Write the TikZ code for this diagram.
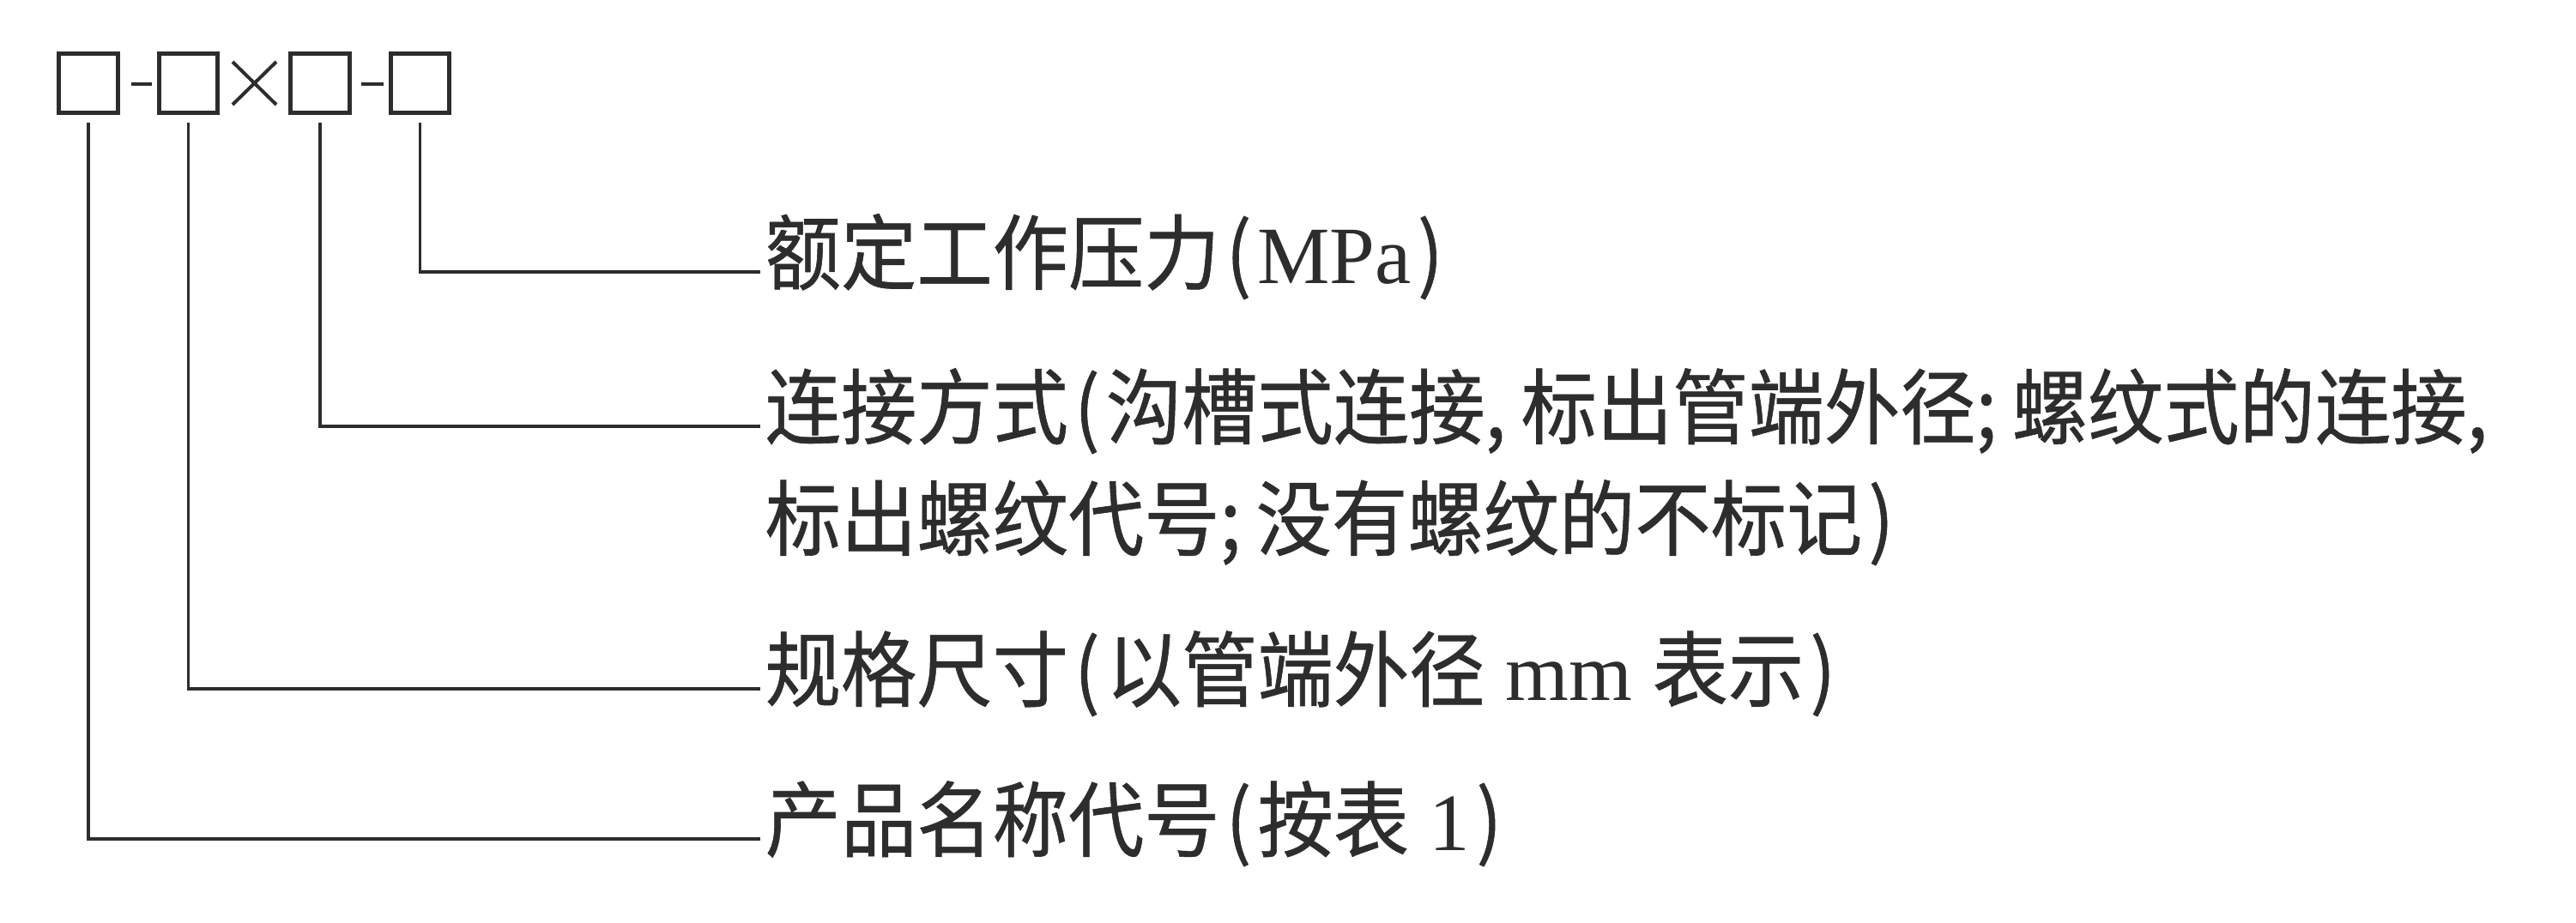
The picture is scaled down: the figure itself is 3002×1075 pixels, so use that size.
\documentclass[tikz,border=0pt]{standalone}
\usepackage{fontspec}
\setmainfont{Liberation Serif}
\newfontfamily\cjk[FakeStretch=0.92,FakeBold=0.6]{Noto Sans CJK SC}
\definecolor{ink}{RGB}{45,45,45}
\newcommand\lat[1]{{\fontsize{27pt}{32pt}\rmfamily #1}}
\newcommand\lp{\kern2pt(\kern2pt}
\newcommand\rp{\kern2pt)}
\begin{document}
\begin{tikzpicture}[x=0.01cm,y=-0.01cm,
  box/.style={draw=ink,line width=0.05cm,minimum width=0.68cm,minimum height=0.68cm,inner sep=0pt},
  conn/.style={draw=ink,line width=0.034cm,shorten <=0.09cm},
  mark line/.style={draw=ink,line width=0.04cm},
  label/.style={anchor=west,inner xsep=0.05cm,inner ysep=0pt,text=ink,
    font=\cjk\fontsize{27.3pt}{32pt}\selectfont,text height=0.88em,text depth=0.12em}]
\useasboundingbox (0,0) rectangle (3002,1075);
% code boxes
\node[box] (b1) at (103,97) {};
\node[box] (b2) at (219.5,97) {};
\node[box] (b3) at (373,97) {};
\node[box] (b4) at (489.5,97) {};
% separators
\draw[mark line] (b1.east) ++(13,1) -- ++(24,0);
\draw[mark line] (b3.east) ++(11,1) -- ++(26,0);
\draw[mark line] (271,72) -- (322,122);
\draw[mark line] (271,122) -- (322,72);
% labels
\node[label] (t1) at (886,317) {额定工作压力\lp\lat{MPa}\rp};
\node[label] (t2) at (886,497) {连接方式\lp 沟槽式连接,\kern5pt 标出管端外径;\kern5pt 螺纹式的连接,};
\node[label] (t2b) at (886,627) {标出螺纹代号;\kern5pt 没有螺纹的不标记\rp};
\node[label] (t3) at (886,803) {规格尺寸\lp 以管端外径\lat{ mm }表示\rp};
\node[label] (t4) at (886,978) {产品名称代号\lp 按表\lat{ 1}\rp};
% connectors
\draw[conn] (b4.south) |- (t1.west);
\draw[conn] (b3.south) |- (t2.west);
\draw[conn] (b2.south) |- (t3.west);
\draw[conn] (b1.south) |- (t4.west);
\end{tikzpicture}
\end{document}
